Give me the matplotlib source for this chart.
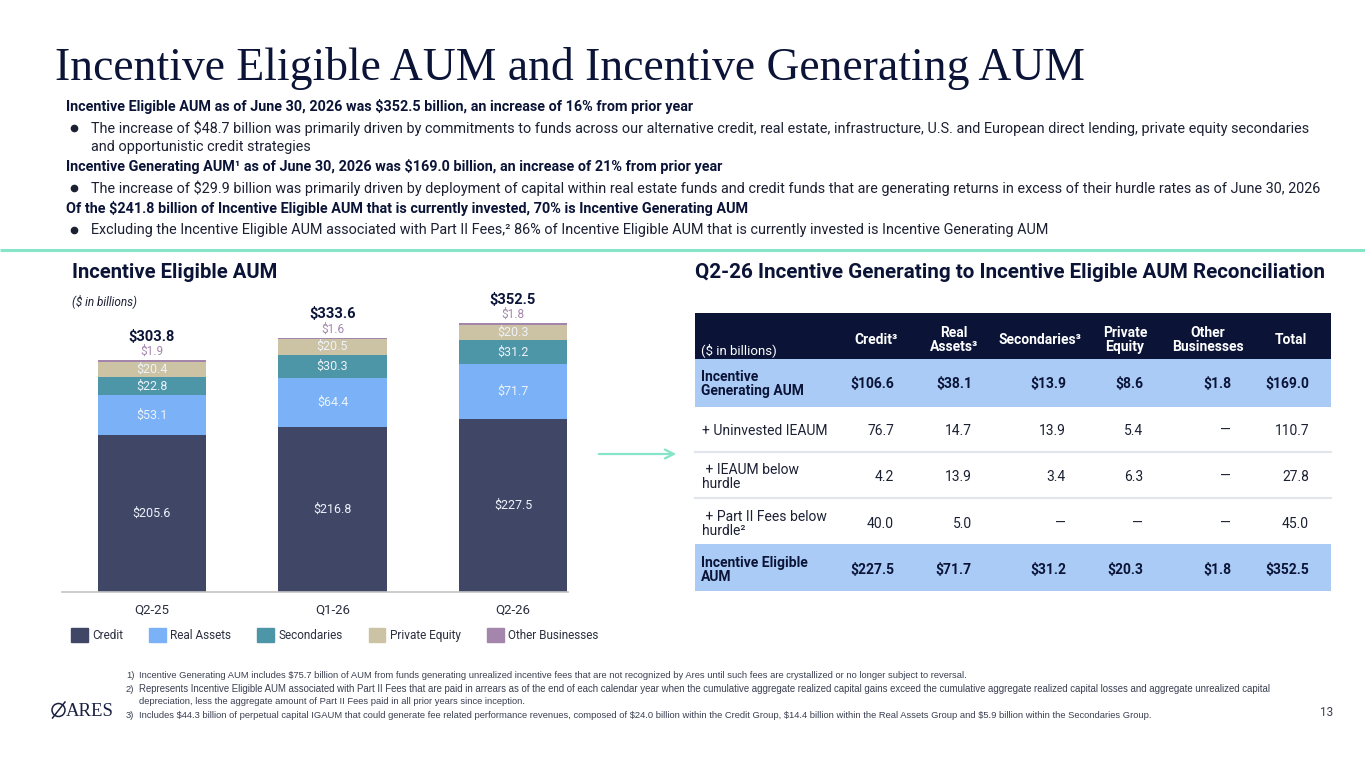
import numpy as np
import matplotlib
matplotlib.use("Agg")
import matplotlib.pyplot as plt
from matplotlib.patches import Rectangle, Ellipse, Patch

W, H = 1365, 768

# ---- data ----
quarters = ["Q2-25", "Q1-26", "Q2-26"]
credit = [205.6, 216.8, 227.5]
real_assets = [53.1, 64.4, 71.7]
secondaries = [22.8, 30.3, 31.2]
private_equity = [20.4, 20.5, 20.3]
other_bus = [1.9, 1.6, 1.8]
totals = [303.8, 333.6, 352.5]

tbl_cols = ["Credit³", "Real\nAssets³", "Secondaries³", "Private\nEquity", "Other\nBusinesses", "Total"]
tbl_rows = ["Incentive\nGenerating AUM", "+ Uninvested IEAUM", " + IEAUM below\nhurdle",
            " + Part II Fees below\nhurdle²", "Incentive Eligible\nAUM"]
igaum = [106.6, 38.1, 13.9, 8.6, 1.8, 169.0]
uninvested = [76.7, 14.7, 13.9, 5.4, None, 110.7]
below_hurdle = [4.2, 13.9, 3.4, 6.3, None, 27.8]
part2_below = [40.0, 5.0, None, None, None, 45.0]
ieaum = [227.5, 71.7, 31.2, 20.3, 1.8, 352.5]

# ---- colours ----
navy = "#0b1437"
c_credit = "#404766"
c_ra = "#7bb2f7"
c_sec = "#4d96a8"
c_pe = "#ccc2a4"
c_oth = "#a486ad"
hl = "#a9cbf6"
mint = "#86e4c8"
txt = "#1b2033"

body = "Roboto"

fig = plt.figure(figsize=(W / 100, H / 100), dpi=100)
fig.patch.set_facecolor("white")
rend = fig.canvas.get_renderer()

# overlay axes in pixel coordinates (y down)
ov = fig.add_axes([0, 0, 1, 1], zorder=0)
ov.set_xlim(0, W)
ov.set_ylim(H, 0)
ov.axis("off")


def fit(t, width):
    bb = t.get_window_extent(rend)
    t.set_fontsize(t.get_fontsize() * width / bb.width)
    return t


# title
t = ov.text(55, 80, "Incentive Eligible AUM and Incentive Generating AUM", family="Liberation Serif",
            fontsize=32, color=navy, va="baseline")
fit(t, 1028)

# summary text
bold_lines = [
    (106, "Incentive Eligible AUM as of June 30, 2026 was $352.5 billion, an increase of 16% from prior year", 631),
    (166, "Incentive Generating AUM¹ as of June 30, 2026 was $169.0 billion, an increase of 21% from prior year", None),
    (208, "Of the $241.8 billion of Incentive Eligible AUM that is currently invested, 70% is Incentive Generating AUM", None),
]
bullet_lines = [
    (128, "The increase of $48.7 billion was primarily driven by commitments to funds across our alternative credit, "
          "real estate, infrastructure, U.S. and European direct lending, private equity secondaries", True),
    (147, "and opportunistic credit strategies", False),
    (188, "The increase of $29.9 billion was primarily driven by deployment of capital within real estate funds and "
          "credit funds that are generating returns in excess of their hurdle rates as of June 30, 2026", True),
    (230, "Excluding the Incentive Eligible AUM associated with Part II Fees,² 86% of Incentive Eligible AUM that is "
          "currently invested is Incentive Generating AUM", True),
]
tb = ov.text(66, bold_lines[0][0], bold_lines[0][1], family=body, fontweight="bold", fontsize=10,
             color=navy, va="center", parse_math=False)
fit(tb, bold_lines[0][2])
bfs = tb.get_fontsize()
for y, s, _ in bold_lines[1:]:
    ov.text(66, y, s, family=body, fontweight="bold", fontsize=bfs, color=navy, va="center", parse_math=False)
tr = ov.text(91, bullet_lines[0][0], bullet_lines[0][1], family=body, fontsize=10, color=txt, va="center",
             parse_math=False)
fit(tr, 1219)
rfs = tr.get_fontsize()
for y, s, dot in bullet_lines:
    if y != bullet_lines[0][0]:
        ov.text(91, y, s, family=body, fontsize=rfs, color=txt, va="center", parse_math=False)
    if dot:
        ov.plot([74], [y], "o", color=txt, ms=4.5)

# divider
ov.plot([0, W], [250, 250], color=mint, lw=2.2, solid_capstyle="butt")

# section titles
t1 = ov.text(72, 272, "Incentive Eligible AUM", family=body, fontweight="bold", fontsize=13, color=navy, va="center")
fit(t1, 205)
t2 = ov.text(695, 272, "Q2-26 Incentive Generating to Incentive Eligible AUM Reconciliation", family=body,
             fontweight="bold", fontsize=13, color=navy, va="center")
fit(t2, 629)
ov.text(72, 301, "($ in billions)", family=body, style="italic", fontsize=8.5, color=txt, va="center",
        parse_math=False)

# ---- stacked bar chart ----
ax = fig.add_axes([62 / W, 1 - 592 / H, (568 - 62) / W, (592 - 300) / H], zorder=2)
ax.patch.set_alpha(0)
x = np.arange(len(quarters))
series = [("Credit", credit, c_credit), ("Real Assets", real_assets, c_ra), ("Secondaries", secondaries, c_sec),
          ("Private Equity", private_equity, c_pe), ("Other Businesses", other_bus, c_oth)]
bottom = np.zeros(len(quarters))
handles = []
for name, vals, col in series:
    vals = np.array(vals)
    ax.bar(x, vals, 0.601, bottom=bottom, color=col, label=name)
    handles.append(Patch(color=col, label=name))
    for i in range(len(x)):
        if name != "Other Businesses":
            ax.text(x[i], bottom[i] + vals[i] / 2, f"${vals[i]:.1f}", ha="center", va="center",
                    color="#eef2fa", fontsize=9, family=body, parse_math=False)
    bottom = bottom + vals
for i in range(len(x)):
    ax.annotate(f"${other_bus[i]:.1f}", (x[i], bottom[i]), xytext=(0, 1.5), textcoords="offset points",
                ha="center", va="bottom", color=c_oth, fontsize=8.5, family=body)
    ax.annotate(f"${totals[i]:.1f}", (x[i], bottom[i]), xytext=(0, 12), textcoords="offset points",
                ha="center", va="bottom", color=navy, fontsize=10.5, fontweight="bold", family=body)
ax.set_xlim(-0.4986, 2.305)
ax.set_ylim(0, 383)
for s in ["top", "left", "right"]:
    ax.spines[s].set_visible(False)
ax.spines["bottom"].set_color("#c4c4c4")
ax.spines["bottom"].set_linewidth(1.2)
ax.set_yticks([])
ax.set_xticks(x, quarters)
ax.tick_params(axis="x", length=0, pad=8, labelsize=9.5, labelcolor="#2b2f3f")
for lab in ax.get_xticklabels():
    lab.set_family(body)
fig.legend(handles=handles, loc="center left", bbox_to_anchor=(71 / W, 1 - 635 / H), ncol=5, frameon=False,
           prop={"family": body, "size": 8.5}, handlelength=1.4, handleheight=1.4, handletextpad=0.4,
           columnspacing=2.2, borderpad=0, borderaxespad=0, labelcolor="#2b2f3f")

# arrow
ov.annotate("", xy=(679, 454), xytext=(596, 454),
            arrowprops=dict(arrowstyle="->", color=mint, lw=1.6, mutation_scale=16))

# ---- reconciliation table ----
tx0, tx1 = 695, 1331
edges = [313, 359, 407, 452, 498, 544, 591]
ov.add_patch(Rectangle((tx0, edges[0]), tx1 - tx0, edges[1] - edges[0], color=navy, lw=0))
ov.add_patch(Rectangle((tx0, edges[1]), tx1 - tx0, edges[2] - edges[1], color=hl, lw=0))
ov.add_patch(Rectangle((tx0, edges[5]), tx1 - tx0, edges[6] - edges[5], color=hl, lw=0))
for yy in [edges[3], edges[4]]:
    ov.plot([tx0, tx1], [yy, yy], color="#e2e5eb", lw=1.5)
hdr_x = [876, 954, 1040, 1125, 1208, 1291]
num_r = [894, 972, 1066, 1143, 1231, 1309]
ov.text(701, 350, "($ in billions)", family=body, fontsize=9.5, color="white", va="center", parse_math=False)
for cx, c in zip(hdr_x, tbl_cols):
    ov.text(cx, 340, c, family=body, fontweight="bold", fontsize=10, color="white", ha="center",
            va="center", linespacing=1.0)
row_y = [384, 431, 477, 524, 570]
row_vals = [igaum, uninvested, below_hurdle, part2_below, ieaum]
for k, (lab, vals, yy) in enumerate(zip(tbl_rows, row_vals, row_y)):
    bold = k in (0, 4)
    ov.text(701 if bold else 702, yy, lab, family=body, fontweight="bold" if bold else "normal", fontsize=10,
            color=navy if bold else txt, va="center", linespacing=1.0)
    for rx, v in zip(num_r, vals):
        if v is None:
            s = "—"
        elif bold:
            s = f"${v:.1f}"
        else:
            s = f"{v:.1f}"
        ov.text(rx, yy, s, family=body, fontweight="bold" if bold else "normal", fontsize=10,
                color=navy if bold else txt, ha="right", va="center", parse_math=False)

# ---- footnotes ----
fn = [
    (675, "1)", "Incentive Generating AUM includes $75.7 billion of AUM from funds generating unrealized incentive fees "
                "that are not recognized by Ares until such fees are crystallized or no longer subject to reversal.", 825),
    (689, "2)", "Represents Incentive Eligible AUM associated with Part II Fees that are paid in arrears as of the end of "
                "each calendar year when the cumulative aggregate realized capital gains exceed the cumulative aggregate "
                "realized capital losses and aggregate unrealized capital", 1145),
    (702, "", "depreciation, less the aggregate amount of Part II Fees paid in all prior years since inception.", None),
    (716, "3)", "Includes $44.3 billion of perpetual capital IGAUM that could generate fee related performance revenues, "
                "composed of $24.0 billion within the Credit Group, $14.4 billion within the Real Assets Group and "
                "$5.9 billion within the Secondaries Group.", None),
]
fcol = "#3a3f50"
t0 = ov.text(139, fn[0][0], fn[0][2], family="Liberation Sans", fontsize=7, color=fcol, va="center",
             parse_math=False)
fit(t0, fn[0][3])
ffs = t0.get_fontsize()
for y, num, s, w in fn:
    if num:
        ov.text(126, y, num, family="Liberation Sans", fontsize=ffs, color=fcol, va="center")
    if y != fn[0][0]:
        tt = ov.text(139, y, s, family="Liberation Sans", fontsize=ffs, color=fcol, va="center", parse_math=False)
        if w:
            fit(tt, w)

# logo and page number
ov.add_patch(Ellipse((58.5, 710), 13, 13, fill=False, ec="#1a2040", lw=1.1))
ov.plot([52.5, 65], [718, 702], color="#1a2040", lw=1.1)
ov.text(66, 711, "ARES", family="Liberation Serif", fontsize=13.5, color="#1a2040", va="center")
ov.text(1320, 712, "13", family=body, fontsize=8.5, color=fcol, va="center")

fig.savefig("out.png", dpi=100, facecolor="white")
